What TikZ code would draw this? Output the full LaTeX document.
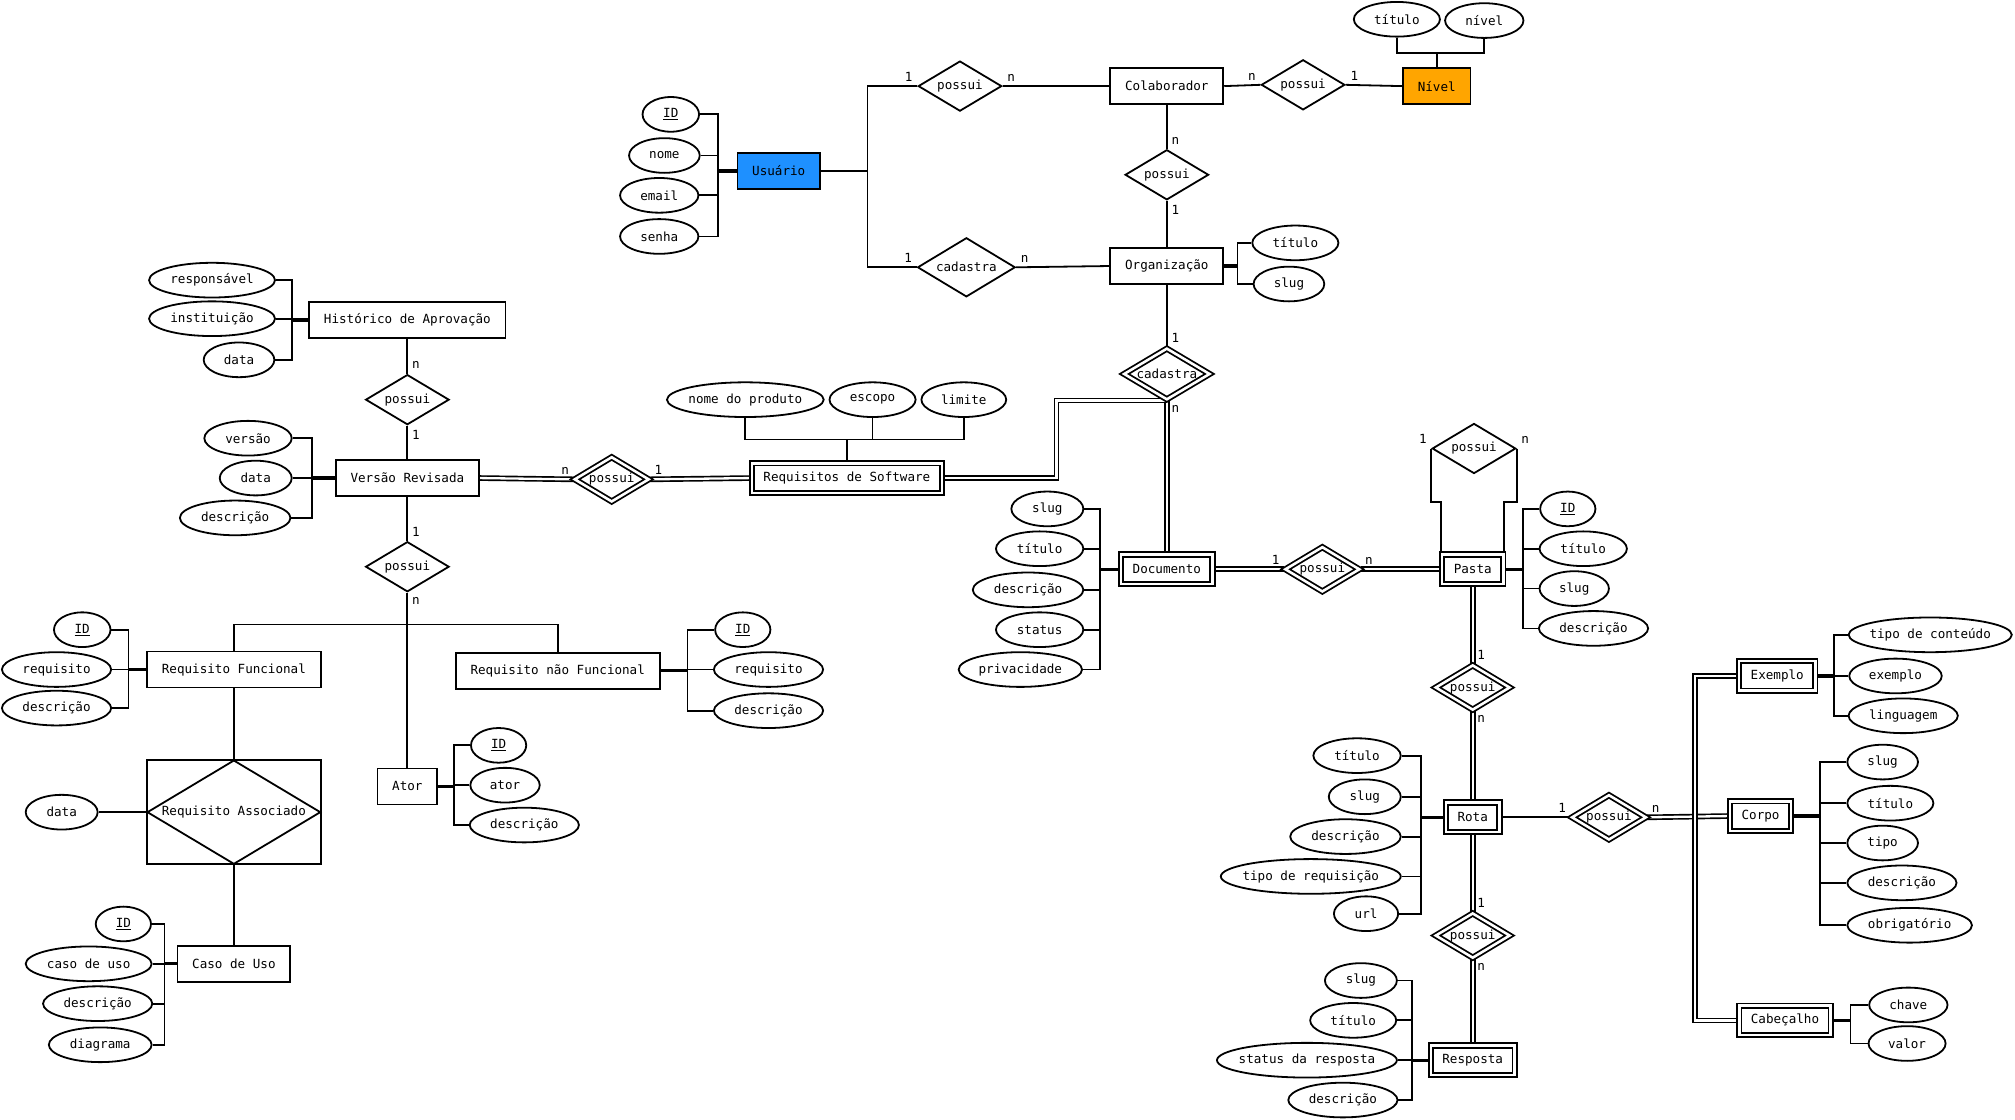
\documentclass[tikz,border=0pt]{standalone}
\usepackage{fontspec}
\setmainfont{DejaVu Sans Mono}
\usepackage{tikz}
\usetikzlibrary{shapes.geometric,positioning,backgrounds}
\definecolor{userblue}{RGB}{30,144,255}
\definecolor{levelorange}{RGB}{255,165,0}
\newcommand{\erfont}{\fontsize{9.8pt}{11pt}\selectfont}
\tikzset{
  entity/.style={rectangle, draw=black, line width=1.4pt, fill=white, minimum height=28pt,
    inner xsep=11.5pt, inner ysep=0pt, font=\erfont},
  weakentity/.style={entity, double, double distance=2pt, minimum height=23pt, inner xsep=9pt},
  relation/.style={diamond, aspect=2, draw=black, line width=1.4pt, fill=white, inner sep=0pt,
    minimum width=65pt, minimum height=39pt, font=\erfont},
  weakrelation/.style={relation, double, double distance=2pt, minimum width=58pt, minimum height=35pt},
  attrib/.style={ellipse, draw=black, line width=1.4pt, fill=white, minimum height=27pt,
    minimum width=#1, inner xsep=-40pt, inner ysep=0pt, font=\erfont},
  erline/.style={line width=1.4pt},
  erstub/.style={line width=2.6pt},
  erdouble/.style={line width=1.3pt, double, double distance=1.8pt},
  card/.style={inner sep=3pt, font=\erfont}
}
\begin{document}
\begin{tikzpicture}[x=1pt,y=-1pt]
\useasboundingbox (0,0) rectangle (1568,871);
\node[entity, fill=userblue] (usr) at (606,133) {Usuário};
\node[entity] (colab) at (908,67) {Colaborador};
\node[entity] (org) at (908,207) {Organização};
\node[entity, fill=levelorange] (niv) at (1118,67) {Nível};
\node[entity] (hist) at (317,249) {Histórico de Aprovação};
\node[entity] (ver) at (317,372) {Versão Revisada};
\node[weakentity] (reqsw) at (659,372) {Requisitos de Software};
\node[entity] (rf) at (182,521) {Requisito Funcional};
\node[entity] (rnf) at (434,522) {Requisito não Funcional};
\node[entity] (ator) at (317,612) {Ator};
\node[entity] (caso) at (182,750) {Caso de Uso};
\node[weakentity] (doc) at (908,443) {Documento};
\node[weakentity] (pasta) at (1146,443) {Pasta};
\node[weakentity] (rota) at (1146,636) {Rota};
\node[weakentity] (resp) at (1146,825) {Resposta};
\node[weakentity] (exemplo) at (1383,526) {Exemplo};
\node[weakentity] (corpo) at (1370,635) {Corpo};
\node[weakentity] (cab) at (1389,794) {Cabeçalho};

\node[relation] (posUC) at (747,67) {possui};
\node[relation, minimum width=76pt, minimum height=46pt] (cadUO) at (752,208) {cadastra};
\node[relation] (posCO) at (908,136) {possui};
\node[relation] (posCN) at (1014,66) {possui};
\node[weakrelation, minimum width=67pt, minimum height=40pt] (cadOD) at (908,291) {cadastra};
\node[relation] (posHV) at (317,311) {possui};
\node[weakrelation] (posVR) at (476,373) {possui};
\node[relation] (posVF) at (317,441) {possui};
\node[weakrelation] (posDP) at (1029,443) {possui};
\node[relation] (posPP) at (1147,349) {possui};
\node[weakrelation] (posPR) at (1146,535) {possui};
\node[weakrelation] (posRC) at (1252,636) {possui};
\node[weakrelation] (posRR) at (1146,728) {possui};
\node[entity, minimum width=135pt, minimum height=81pt] (assocbox) at (182,632) {};
\node[relation, fill=none, minimum width=135pt, minimum height=81pt] (assoc) at (182,632) {Requisito Associado};

\node[attrib=44pt] (usrid) at (522,89) {\underline{ID}};
\node[attrib=55pt] (usrnome) at (517,121) {nome};
\node[attrib=61pt] (usremail) at (513,152) {email};
\node[attrib=61pt] (usrsenha) at (513,184) {senha};
\node[attrib=67pt] (nivtit) at (1087,15) {título};
\node[attrib=61pt] (nivniv) at (1155,16) {nível};
\node[attrib=67pt] (orgtit) at (1008,189) {título};
\node[attrib=55pt] (orgslug) at (1003,221) {slug};
\node[attrib=98pt] (histresp) at (165,218) {responsável};
\node[attrib=98pt] (histinst) at (165,248) {instituição};
\node[attrib=55pt] (histdata) at (186,280) {data};
\node[attrib=68pt] (verver) at (193,341) {versão};
\node[attrib=56pt] (verdata) at (199,372) {data};
\node[attrib=86pt] (verdesc) at (183,403) {descrição};
\node[attrib=122pt] (reqnome) at (580,311) {nome do produto};
\node[attrib=67pt] (reqesc) at (679,311) {escopo};
\node[attrib=66pt] (reqlim) at (750,311) {limite};
\node[attrib=44pt] (rfid) at (64,490) {\underline{ID}};
\node[attrib=85pt] (rfreq) at (44,521) {requisito};
\node[attrib=85pt] (rfdesc) at (44,551) {descrição};
\node[attrib=43pt] (rnfid) at (578,490) {\underline{ID}};
\node[attrib=85pt] (rnfreq) at (598,521) {requisito};
\node[attrib=85pt] (rnfdesc) at (598,553) {descrição};
\node[attrib=43pt] (atid) at (388,580) {\underline{ID}};
\node[attrib=54pt] (atnome) at (393,611) {ator};
\node[attrib=85pt] (atdesc) at (408,642) {descrição};
\node[attrib=56pt] (assdata) at (48,632) {data};
\node[attrib=43pt] (cuid) at (96,719) {\underline{ID}};
\node[attrib=98pt] (cucaso) at (69,750) {caso de uso};
\node[attrib=85pt] (cudesc) at (76,781) {descrição};
\node[attrib=80pt] (cudiag) at (78,813) {diagrama};
\node[attrib=56pt] (docslug) at (815,396) {slug};
\node[attrib=68pt] (doctit) at (809,427) {título};
\node[attrib=86pt] (docdesc) at (800,459) {descrição};
\node[attrib=68pt] (docstat) at (809,490) {status};
\node[attrib=96pt] (docpriv) at (794,521) {privacidade};
\node[attrib=43pt] (pasid) at (1220,396) {\underline{ID}};
\node[attrib=68pt] (pastit) at (1232,427) {título};
\node[attrib=54pt] (passlug) at (1225,458) {slug};
\node[attrib=85pt] (pasdesc) at (1240,489) {descrição};
\node[attrib=68pt] (rottit) at (1056,588) {título};
\node[attrib=56pt] (rotslug) at (1062,620) {slug};
\node[attrib=86pt] (rotdesc) at (1047,651) {descrição};
\node[attrib=140pt] (rottipo) at (1020,682) {tipo de requisição};
\node[attrib=50pt] (roturl) at (1063,711) {url};
\node[attrib=56pt] (resslug) at (1059,763) {slug};
\node[attrib=67pt] (restit) at (1053,794) {título};
\node[attrib=140pt] (resstat) at (1017,825) {status da resposta};
\node[attrib=85pt] (resdesc) at (1045,856) {descrição};
\node[attrib=127pt] (extipo) at (1502,494) {tipo de conteúdo};
\node[attrib=72pt] (exex) at (1475,526) {exemplo};
\node[attrib=85pt] (exling) at (1481,557) {linguagem};
\node[attrib=55pt] (coslug) at (1465,593) {slug};
\node[attrib=67pt] (cotit) at (1471,625) {título};
\node[attrib=55pt] (cotipo) at (1465,656) {tipo};
\node[attrib=85pt] (codesc) at (1480,687) {descrição};
\node[attrib=97pt] (coobr) at (1486,720) {obrigatório};
\node[attrib=61pt] (cabch) at (1485,782) {chave};
\node[attrib=60pt] (cabval) at (1484,812) {valor};

\coordinate (usrj) at (675,133);
\coordinate (vfj) at (317,486);
\coordinate (cabj) at (1319,794);
\coordinate (usrb) at (559,133);
\coordinate (nivb) at (1118,41);
\coordinate (orgb) at (963,207);
\coordinate (histb) at (227,249);
\coordinate (verb) at (243,372);
\coordinate (reqb) at (659,342);
\coordinate (rfb) at (100,521);
\coordinate (rnfb) at (535,522);
\coordinate (atorb) at (353,612);
\coordinate (casob) at (128,750);
\coordinate (docb) at (856,443);
\coordinate (pasb) at (1185,443);
\coordinate (rotb) at (1106,636);
\coordinate (resb) at (1099,825);
\coordinate (exb) at (1427,526);
\coordinate (cob) at (1416,635);
\coordinate (cabb) at (1440,794);

\begin{scope}[on background layer]
\draw[erline] (usr.east) -- (usrj);
\draw[erline] (usrj) |- (posUC.west) node[card, above left] {1};
\draw[erline] (usrj) |- (cadUO.west) node[card, above left] {1};
\draw[erline] (posUC.east) node[card, above right] {n} -- (colab.west);
\draw[erline] (cadUO.east) node[card, above right] {n} -- (org.west);
\draw[erline] (colab.south) -- (posCO.north) node[card, above right] {n};
\draw[erline] (posCO.south) node[card, below right] {1} -- (org.north);
\draw[erline] (colab.east) -- (posCN.west) node[card, above left] {n};
\draw[erline] (posCN.east) node[card, above right] {1} -- (niv.west);
\draw[erline] (org.south) -- (cadOD.north) node[card, above right] {1};
\draw[erdouble] (cadOD.south) node[card, below right] {n} -- (doc.north);
\draw[erdouble] (reqsw.east) -| ([xshift=-86pt]cadOD.south) -- (cadOD.south);
\draw[erline] (hist.south) -- (posHV.north) node[card, above right] {n};
\draw[erline] (posHV.south) node[card, below right] {1} -- (ver.north);
\draw[erdouble] (ver.east) -- (posVR.west) node[card, above left] {n};
\draw[erdouble] (posVR.east) node[card, above right] {1} -- (reqsw.west);
\draw[erline] (ver.south) -- (posVF.north) node[card, above right] {1};
\draw[erline] (posVF.south) node[card, below right] {n} -- (ator.north);
\draw[erline] (rf.north) |- (vfj) -| (rnf.north);
\draw[erline] (rf.south) -- (assoc.north);
\draw[erline] (assoc.south) -- (caso.north);
\draw[erline] (assdata.east) -- (assoc.west);
\draw[erdouble] (doc.east) -- (posDP.west) node[card, above left] {1};
\draw[erdouble] (posDP.east) node[card, above right] {n} -- (pasta.west);
\draw[erline] (posPP.west) node[card, above left] {1} |- ([yshift=40pt]pasta.north west) -- (pasta.north west);
\draw[erline] (posPP.east) node[card, above right] {n} |- ([yshift=40pt]pasta.north east) -- (pasta.north east);
\draw[erdouble] (pasta.south) -- (posPR.north) node[card, above right] {1};
\draw[erdouble] (posPR.south) node[card, below right] {n} -- (rota.north);
\draw[erline] (rota.east) -- (posRC.west) node[card, above left] {1};
\draw[erdouble] (posRC.east) node[card, above right] {n} -- (corpo.west);
\draw[erdouble] (exemplo.west) -| (cabj) -- (cab.west);
\draw[erdouble] (rota.south) -- (posRR.north) node[card, above right] {1};
\draw[erdouble] (posRR.south) node[card, below right] {n} -- (resp.north);

\draw[erline] (usrid.east) -| (usrb) (usrnome.east) -| (usrb) (usremail.east) -| (usrb) (usrsenha.east) -| (usrb);
\draw[erstub] (usrb) -- (usr.west);
\draw[erline] (nivtit.south) |- (nivb) (nivniv.south) |- (nivb) -- (niv.north);
\draw[erline] (orgtit.west) -| (orgb) (orgslug.west) -| (orgb);
\draw[erstub] (orgb) -- (org.east);
\draw[erline] (histresp.east) -| (histb) (histinst.east) -| (histb) (histdata.east) -| (histb);
\draw[erstub] (histb) -- (hist.west);
\draw[erline] (verver.east) -| (verb) (verdata.east) -| (verb) (verdesc.east) -| (verb);
\draw[erstub] (verb) -- (ver.west);
\draw[erline] (reqnome.south) |- (reqb) (reqesc.south) |- (reqb) (reqlim.south) |- (reqb) -- (reqsw.north);
\draw[erline] (rfid.east) -| (rfb) (rfreq.east) -| (rfb) (rfdesc.east) -| (rfb);
\draw[erstub] (rfb) -- (rf.west);
\draw[erline] (rnfid.west) -| (rnfb) (rnfreq.west) -| (rnfb) (rnfdesc.west) -| (rnfb);
\draw[erstub] (rnfb) -- (rnf.east);
\draw[erline] (atid.west) -| (atorb) (atnome.west) -| (atorb) (atdesc.west) -| (atorb);
\draw[erstub] (atorb) -- (ator.east);
\draw[erline] (cuid.east) -| (casob) (cucaso.east) -| (casob) (cudesc.east) -| (casob) (cudiag.east) -| (casob);
\draw[erstub] (casob) -- (caso.west);
\draw[erline] (docslug.east) -| (docb) (doctit.east) -| (docb) (docdesc.east) -| (docb) (docstat.east) -| (docb) (docpriv.east) -| (docb);
\draw[erstub] (docb) -- (doc.west);
\draw[erline] (pasid.west) -| (pasb) (pastit.west) -| (pasb) (passlug.west) -| (pasb) (pasdesc.west) -| (pasb);
\draw[erstub] (pasb) -- (pasta.east);
\draw[erline] (rottit.east) -| (rotb) (rotslug.east) -| (rotb) (rotdesc.east) -| (rotb) (rottipo.east) -| (rotb) (roturl.east) -| (rotb);
\draw[erstub] (rotb) -- (rota.west);
\draw[erline] (resslug.east) -| (resb) (restit.east) -| (resb) (resstat.east) -| (resb) (resdesc.east) -| (resb);
\draw[erstub] (resb) -- (resp.west);
\draw[erline] (extipo.west) -| (exb) (exex.west) -| (exb) (exling.west) -| (exb);
\draw[erstub] (exb) -- (exemplo.east);
\draw[erline] (coslug.west) -| (cob) (cotit.west) -| (cob) (cotipo.west) -| (cob) (codesc.west) -| (cob) (coobr.west) -| (cob);
\draw[erstub] (cob) -- (corpo.east);
\draw[erline] (cabch.west) -| (cabb) (cabval.west) -| (cabb);
\draw[erstub] (cabb) -- (cab.east);
\end{scope}
\end{tikzpicture}
\end{document}
